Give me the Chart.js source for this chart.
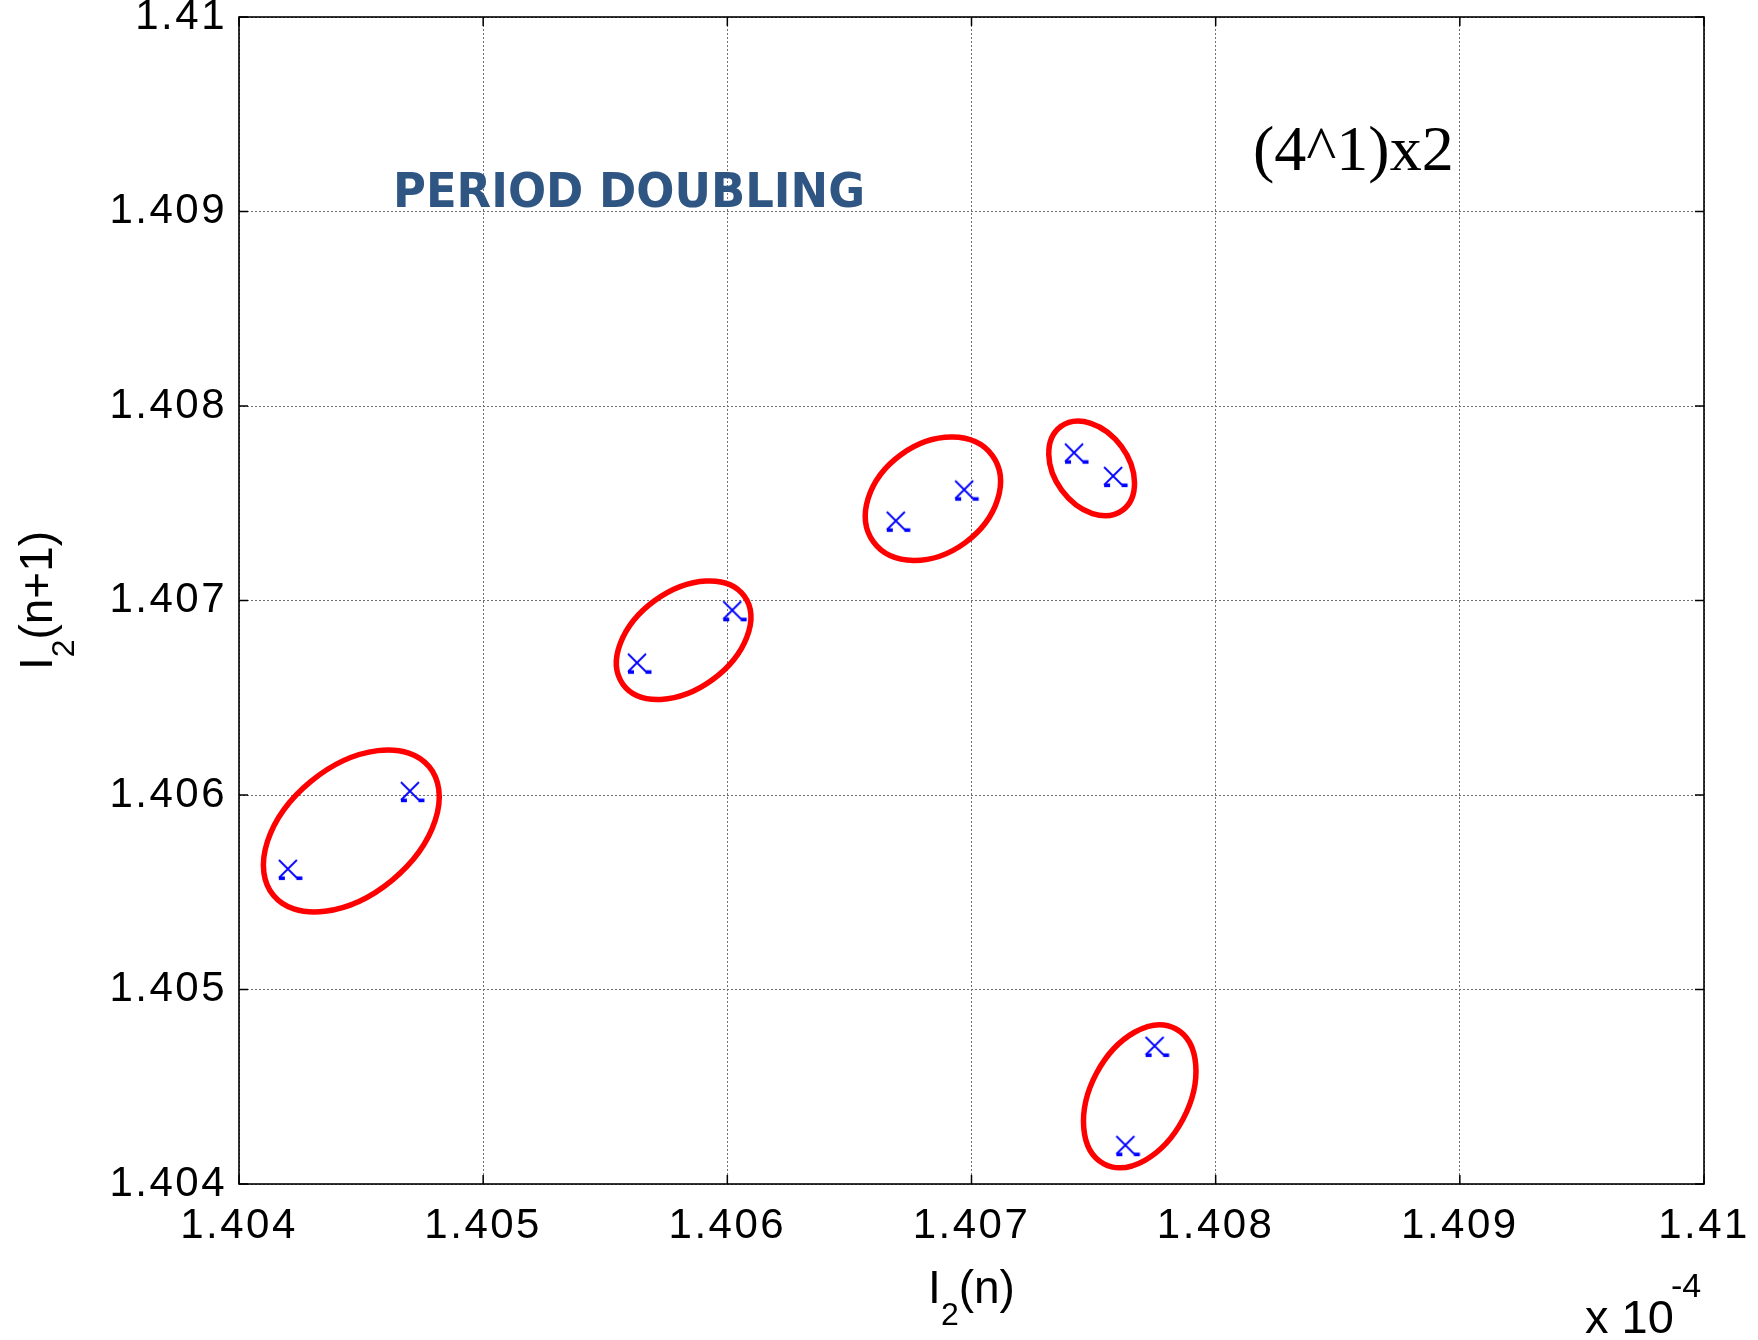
<!DOCTYPE html>
<html>
<head>
<meta charset="utf-8">
<title>Period doubling map</title>
<script src="https://cdn.jsdelivr.net/npm/chart.js@4.4.1/dist/chart.umd.min.js"></script>
<style>
    html, body { margin: 0; padding: 0; background: #fff; }
    canvas { display: block; }
</style>
</head>
<body>
<canvas id="mapChart" width="1758" height="1340"></canvas>
<script>
/* ================= DATA ================= */
var xTickValues = [1.404, 1.405, 1.406, 1.407, 1.408, 1.409, 1.41];
var xTickLabels = ["1.404", "1.405", "1.406", "1.407", "1.408", "1.409", "1.41"];
var yTickValues = [1.404, 1.405, 1.406, 1.407, 1.408, 1.409, 1.41];
var yTickLabels = ["1.404", "1.405", "1.406", "1.407", "1.408", "1.409", "1.41"];

// I2(n) -> I2(n+1), one point per iterate
var xValues = [1.40420, 1.40470, 1.40563, 1.40602, 1.40669, 1.40697, 1.40742, 1.40758, 1.40763, 1.40775];
var yValues = [1.40562, 1.40602, 1.40668, 1.40695, 1.40741, 1.40757, 1.40776, 1.40764, 1.40420, 1.40471];

// red rings around the point pairs (centre in data units)
var ringX = [1.40446, 1.405821, 1.406842, 1.407492, 1.407689];
var ringY = [1.405815, 1.406796, 1.407523, 1.407679, 1.404451];
var ringRx = [101, 75, 73.5, 52, 76.5];
var ringRy = [64, 49, 54.5, 37, 49];
var ringAngle = [-39.5, -36, -36, 53.6, -62];

var titleText = "PERIOD DOUBLING";
var caseText = "(4^1)x2";

/* ================= HELPERS ================= */
var SANS = "'Liberation Sans', Arial, sans-serif";

function makeMarker() {
    var c = document.createElement("canvas");
    c.width = 34;
    c.height = 34;
    var g = c.getContext("2d");
    g.strokeStyle = "#0000ff";
    g.fillStyle = "#0000ff";
    g.lineWidth = 1.8;
    g.beginPath();
    g.moveTo(8, 8); g.lineTo(26, 26);
    g.moveTo(26, 8); g.lineTo(8, 26);
    g.stroke();
    // little feet that the original export left under each cross
    g.fillRect(8, 24.5, 6, 3.6);
    g.fillRect(25.5, 24.5, 6, 3.6);
    return c;
}

function drawSubLabel(ctx, parts, x, y, angle) {
    ctx.save();
    ctx.translate(x, y);
    ctx.rotate(angle);
    ctx.fillStyle = "#000";
    ctx.textBaseline = "alphabetic";
    ctx.textAlign = "left";
    var total = 0;
    parts.forEach(function (p) {
        ctx.font = p.size + "px " + SANS;
        p.w = ctx.measureText(p.t).width;
        total += p.w;
    });
    var cx = -total / 2;
    parts.forEach(function (p) {
        ctx.font = p.size + "px " + SANS;
        ctx.fillText(p.t, cx, p.dy);
        cx += p.w;
    });
    ctx.restore();
}

/* ================= PLUGINS ================= */
var paperPlugin = {
    id: "paper",
    beforeDraw: function (chart) {
        var ctx = chart.ctx;
        ctx.save();
        ctx.fillStyle = "#fff";
        ctx.fillRect(0, 0, chart.width, chart.height);
        ctx.restore();
        // the exported tick labels are a little spaced out
        ctx.letterSpacing = "2.5px";
    },
    beforeDatasetsDraw: function (chart) {
        var ctx = chart.ctx;
        var xs = chart.scales.x;
        var ys = chart.scales.y;
        ctx.letterSpacing = "0px";
        ctx.save();
        ctx.strokeStyle = "#ff0000";
        ctx.lineWidth = 5.5;
        ringX.forEach(function (v, i) {
            ctx.beginPath();
            ctx.ellipse(xs.getPixelForValue(v), ys.getPixelForValue(ringY[i]),
                ringRx[i], ringRy[i], ringAngle[i] * Math.PI / 180, 0, Math.PI * 2);
            ctx.stroke();
        });
        ctx.restore();
    },
    afterDraw: function (chart) {
        var ctx = chart.ctx;
        var a = chart.chartArea;
        var xs = chart.scales.x;
        var ys = chart.scales.y;
        ctx.save();
        ctx.letterSpacing = "0px";
        // axes box
        ctx.strokeStyle = "#000";
        ctx.lineWidth = 1.6;
        ctx.strokeRect(a.left, a.top, a.right - a.left, a.bottom - a.top);
        // inward tick marks
        ctx.lineWidth = 1.5;
        ctx.beginPath();
        xTickValues.forEach(function (v) {
            var px = xs.getPixelForValue(v);
            ctx.moveTo(px, a.bottom); ctx.lineTo(px, a.bottom - 9);
            ctx.moveTo(px, a.top); ctx.lineTo(px, a.top + 9);
        });
        yTickValues.forEach(function (v) {
            var py = ys.getPixelForValue(v);
            ctx.moveTo(a.left, py); ctx.lineTo(a.left + 9, py);
            ctx.moveTo(a.right, py); ctx.lineTo(a.right - 9, py);
        });
        ctx.stroke();

        // axis titles
        drawSubLabel(ctx, [
            { t: "I", size: 46, dy: 0 },
            { t: "2", size: 32, dy: 22 },
            { t: "(n)", size: 46, dy: 0 }
        ], (a.left + a.right) / 2, 1303, 0);
        drawSubLabel(ctx, [
            { t: "I", size: 46, dy: 0 },
            { t: "2", size: 32, dy: 22 },
            { t: "(n+1)", size: 46, dy: 0 }
        ], 52, (a.top + a.bottom) / 2, -Math.PI / 2);

        // exponent note
        ctx.fillStyle = "#000";
        ctx.textAlign = "left";
        ctx.textBaseline = "alphabetic";
        ctx.font = "47px " + SANS;
        ctx.fillText("x 10", 1585, 1333);
        ctx.font = "34px " + SANS;
        ctx.fillText("-4", 1671, 1297);

        // case label
        ctx.font = "64px 'Liberation Serif', 'Times New Roman', serif";
        ctx.fillText(caseText, 1253, 170);

        // title, squeezed to the original width
        ctx.font = "bold 48px 'DejaVu Sans', Verdana, sans-serif";
        var w = ctx.measureText(titleText).width;
        ctx.translate(393, 207);
        ctx.scale(472 / w, 1);
        ctx.fillStyle = "#2f5583";
        ctx.fillText(titleText, 0, 0);
        ctx.restore();
    }
};

/* ================= CHART ================= */
function buildPoints() {
    return xValues.map(function (x, i) {
        return { x: x, y: yValues[i] };
    });
}

function axisOptions(tickValues, tickLabels, fontSize, pad, isX) {
    return {
        type: "linear",
        min: tickValues[0],
        max: tickValues[tickValues.length - 1],
        afterBuildTicks: function (scale) {
            scale.ticks = tickValues.map(function (v) { return { value: v }; });
        },
        ticks: {
            autoSkip: false,
            maxRotation: 0,
            padding: pad,
            color: "#000",
            font: { family: SANS, size: fontSize },
            callback: function (value, index) { return tickLabels[index]; }
        },
        grid: { color: "#707070", lineWidth: 1, drawTicks: false },
        border: { display: false, dash: [2, 2] },
        afterFit: function (scale) {
            if (isX) {
                scale.height = 156;
                scale.paddingLeft = 0;
                scale.paddingRight = 0;
            } else {
                scale.width = 239;
                scale.paddingTop = 0;
                scale.paddingBottom = 0;
            }
        }
    };
}

function renderChart() {
    var canvas = document.getElementById("mapChart");
    var ctx = canvas.getContext("2d");
    new Chart(ctx, {
        type: "scatter",
        data: {
            datasets: [{
                data: buildPoints(),
                pointStyle: makeMarker(),
                pointRadius: 10,
                pointHoverRadius: 10,
                showLine: false
            }]
        },
        options: {
            responsive: false,
            animation: false,
            devicePixelRatio: 1,
            events: [],
            layout: { padding: { top: 17, right: 54, bottom: 0, left: 0 } },
            plugins: {
                legend: { display: false },
                tooltip: { enabled: false }
            },
            scales: {
                x: axisOptions(xTickValues, xTickLabels, 42, 17, true),
                y: axisOptions(yTickValues, yTickLabels, 42, 12, false)
            }
        },
        plugins: [paperPlugin]
    });
}

renderChart();
</script>
</body>
</html>
